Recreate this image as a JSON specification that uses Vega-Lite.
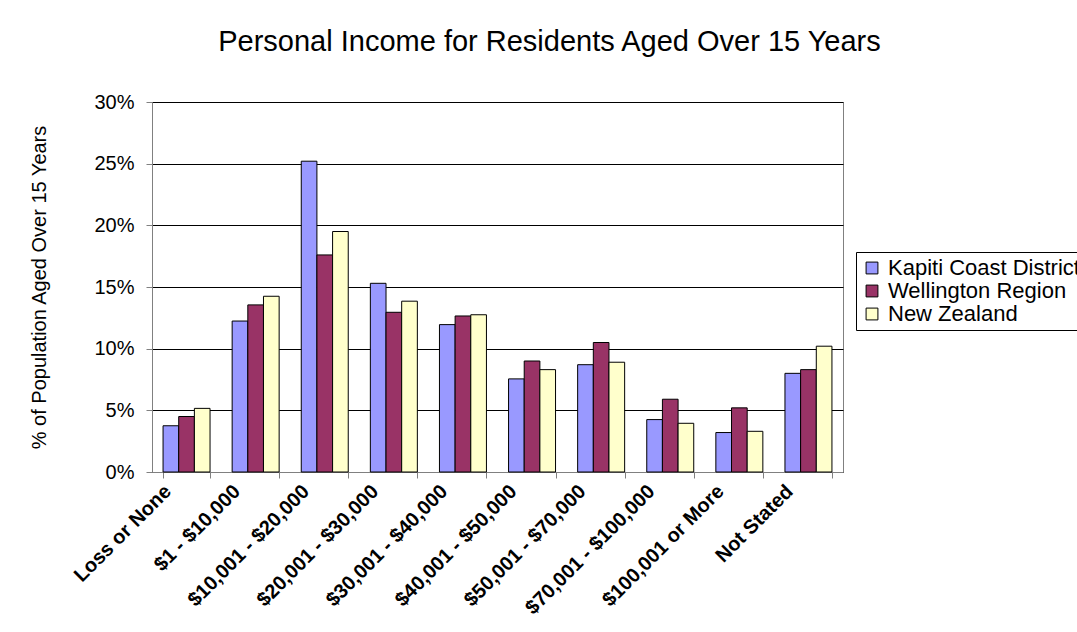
{
  "$schema": "https://vega.github.io/schema/vega-lite/v6.json",
  "autosize": {"type": "none"},
  "width": 691,
  "height": 370,
  "padding": {"left": 152, "top": 102, "right": 234, "bottom": 160},
  "background": "white",
  "title": {
    "text": "Personal Income for Residents Aged Over 15 Years",
    "font": "Liberation Sans",
    "fontSize": 29,
    "fontWeight": "normal",
    "color": "black",
    "anchor": "middle",
    "frame": "group",
    "baseline": "alphabetic",
    "offset": 12,
    "dx": 52
  },
  "data": {
    "values": [
      {"category": "Loss or None", "series": "Kapiti Coast District", "pct": 3.75},
      {"category": "Loss or None", "series": "Wellington Region", "pct": 4.5},
      {"category": "Loss or None", "series": "New Zealand", "pct": 5.16},
      {"category": "$1 - $10,000", "series": "Kapiti Coast District", "pct": 12.24},
      {"category": "$1 - $10,000", "series": "Wellington Region", "pct": 13.55},
      {"category": "$1 - $10,000", "series": "New Zealand", "pct": 14.25},
      {"category": "$10,001 - $20,000", "series": "Kapiti Coast District", "pct": 25.2},
      {"category": "$10,001 - $20,000", "series": "Wellington Region", "pct": 17.6},
      {"category": "$10,001 - $20,000", "series": "New Zealand", "pct": 19.5},
      {"category": "$20,001 - $30,000", "series": "Kapiti Coast District", "pct": 15.3},
      {"category": "$20,001 - $30,000", "series": "Wellington Region", "pct": 12.95},
      {"category": "$20,001 - $30,000", "series": "New Zealand", "pct": 13.85},
      {"category": "$30,001 - $40,000", "series": "Kapiti Coast District", "pct": 11.95},
      {"category": "$30,001 - $40,000", "series": "Wellington Region", "pct": 12.65},
      {"category": "$30,001 - $40,000", "series": "New Zealand", "pct": 12.75},
      {"category": "$40,001 - $50,000", "series": "Kapiti Coast District", "pct": 7.55},
      {"category": "$40,001 - $50,000", "series": "Wellington Region", "pct": 9.0},
      {"category": "$40,001 - $50,000", "series": "New Zealand", "pct": 8.3},
      {"category": "$50,001 - $70,000", "series": "Kapiti Coast District", "pct": 8.7},
      {"category": "$50,001 - $70,000", "series": "Wellington Region", "pct": 10.5},
      {"category": "$50,001 - $70,000", "series": "New Zealand", "pct": 8.9},
      {"category": "$70,001 - $100,000", "series": "Kapiti Coast District", "pct": 4.25},
      {"category": "$70,001 - $100,000", "series": "Wellington Region", "pct": 5.9},
      {"category": "$70,001 - $100,000", "series": "New Zealand", "pct": 3.95},
      {"category": "$100,001 or More", "series": "Kapiti Coast District", "pct": 3.2},
      {"category": "$100,001 or More", "series": "Wellington Region", "pct": 5.2},
      {"category": "$100,001 or More", "series": "New Zealand", "pct": 3.3},
      {"category": "Not Stated", "series": "Kapiti Coast District", "pct": 8.0},
      {"category": "Not Stated", "series": "Wellington Region", "pct": 8.3},
      {"category": "Not Stated", "series": "New Zealand", "pct": 10.2}
    ]
  },
  "mark": {"type": "bar", "stroke": "black", "strokeWidth": 1},
  "encoding": {
    "x": {
      "field": "category",
      "type": "nominal",
      "sort": null,
      "scale": {"paddingInner": 0.32, "paddingOuter": 0.16},
      "axis": {
        "title": null,
        "tickBand": "extent",
        "labelAngle": -45,
        "labelAlign": "right",
        "labelBaseline": "middle",
        "labelOffset": -19,
        "labelPadding": 10,
        "labelFont": "Liberation Sans",
        "labelFontSize": 20,
        "labelFontWeight": "bold",
        "labelColor": "black",
        "tickSize": 6,
        "tickColor": "#808080",
        "domainColor": "#808080",
        "labelOverlap": false,
        "labelLimit": 400
      }
    },
    "xOffset": {
      "field": "series",
      "type": "nominal",
      "sort": ["Kapiti Coast District", "Wellington Region", "New Zealand"],
      "scale": {"paddingInner": 0, "paddingOuter": 0}
    },
    "y": {
      "field": "pct",
      "type": "quantitative",
      "scale": {"domain": [0, 30], "nice": false},
      "axis": {
        "title": "% of Population Aged Over 15 Years",
        "titleFont": "Liberation Sans",
        "titleFontSize": 20,
        "titleFontWeight": "normal",
        "titleColor": "black",
        "titlePadding": 44,
        "values": [0, 5, 10, 15, 20, 25, 30],
        "labelExpr": "datum.value + '%'",
        "labelFont": "Liberation Sans",
        "labelFontSize": 20,
        "labelColor": "black",
        "labelPadding": 12,
        "tickSize": 6,
        "tickColor": "#808080",
        "domainColor": "#808080",
        "grid": true,
        "gridColor": "black",
        "gridWidth": 1
      }
    },
    "color": {
      "field": "series",
      "type": "nominal",
      "sort": ["Kapiti Coast District", "Wellington Region", "New Zealand"],
      "scale": {
        "domain": ["Kapiti Coast District", "Wellington Region", "New Zealand"],
        "range": ["#9999FF", "#993366", "#FFFFCC"]
      },
      "legend": {
        "title": null,
        "orient": "none",
        "legendX": 704,
        "legendY": 150,
        "strokeColor": "black",
        "padding": 5,
        "fillColor": "white",
        "symbolType": "square",
        "symbolSize": 140,
        "symbolStrokeColor": "black",
        "symbolStrokeWidth": 1,
        "symbolOpacity": 1,
        "labelFont": "Liberation Sans",
        "labelFontSize": 22,
        "labelColor": "black",
        "labelLimit": 400,
        "rowPadding": 1,
        "labelOffset": 5
      }
    }
  },
  "config": {
    "view": {"stroke": "#808080", "strokeWidth": 1},
    "axis": {"domainWidth": 1}
  }
}
